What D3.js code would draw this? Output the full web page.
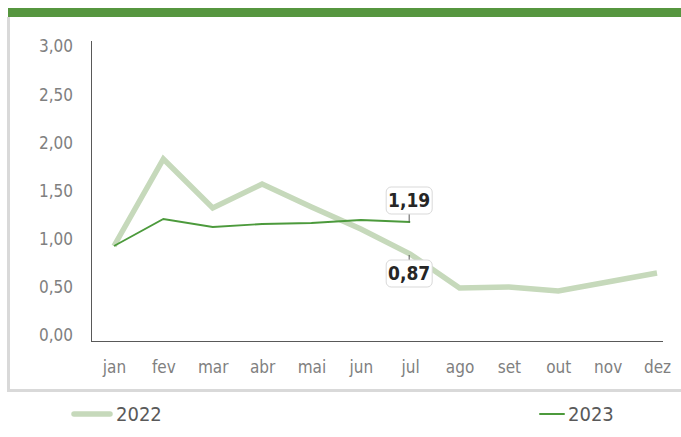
<!DOCTYPE html>
<html>
<head>
<meta charset="utf-8">
<script src="https://cdn.jsdelivr.net/npm/d3@7"></script>
<style>
  body { margin: 0; background: #fff; }
  svg text { font-family: "Liberation Sans Narrow", "DejaVu Sans Condensed", sans-serif; }
</style>
</head>
<body>
<svg id="chart"></svg>
<script>
var width = 681, height = 437;

var months = ["jan", "fev", "mar", "abr", "mai", "jun", "jul", "ago", "set", "out", "nov", "dez"];
var values2022 = [0.95, 1.82, 1.33, 1.57, 1.34, 1.12, 0.87, 0.53, 0.54, 0.50, 0.59, 0.68];
var values2023 = [0.95, 1.22, 1.14, 1.17, 1.18, 1.21, 1.19];
var yTicks = [0, 0.5, 1, 1.5, 2, 2.5, 3];

var fmt = function(v) { return d3.format(".2f")(v).replace(".", ","); };

var svg = d3.select("#chart")
    .attr("width", width)
    .attr("height", height);

// frame: green band on top, grey border left and bottom
svg.append("rect").attr("x", 8).attr("y", 8).attr("width", width - 8).attr("height", 9).attr("fill", "#56963f");
svg.append("rect").attr("x", 7).attr("y", 17).attr("width", 3).attr("height", 375).attr("fill", "#d9d9d9");
svg.append("rect").attr("x", 7).attr("y", 389).attr("width", width - 7).attr("height", 3).attr("fill", "#d9d9d9");

var x = d3.scalePoint().domain(months).range([114, 657]);
var y = d3.scaleLinear().domain([0, 3]).range([341, 41]);
// tick labels sit slightly inside the plot range in the original
var yLab = d3.scaleLinear().domain([0, 3]).range([335, 46]);

// axes lines
svg.append("line").attr("x1", 91.5).attr("x2", 91.5).attr("y1", y(3)).attr("y2", y(0))
    .attr("stroke", "#595959").attr("stroke-width", 1);
svg.append("line").attr("x1", 91).attr("x2", 663).attr("y1", y(0) + 0.5).attr("y2", y(0) + 0.5)
    .attr("stroke", "#595959").attr("stroke-width", 1);

var yAxis = svg.append("g")
    .attr("transform", "translate(73,0)")
    .call(d3.axisLeft(yLab).tickValues(yTicks).tickFormat(fmt).tickSize(0).tickPadding(0));
yAxis.select(".domain").remove();
yAxis.selectAll("text").attr("fill", "#808080").style("font-size", "17px").attr("dy", "0.35em");

var xAxis = svg.append("g")
    .attr("transform", "translate(0,367)")
    .call(d3.axisBottom(x).tickSize(0).tickPadding(0));
xAxis.select(".domain").remove();
xAxis.selectAll("text").attr("fill", "#808080").style("font-size", "17px").attr("dy", "0.35em");

var line = d3.line()
    .x(function(d, i) { return x(months[i]); })
    .y(function(d) { return y(d); });

svg.append("path")
    .datum(values2022)
    .attr("d", line)
    .attr("fill", "none")
    .attr("stroke", "#c6d9bb")
    .attr("stroke-width", 5.5)
    .attr("stroke-linejoin", "miter");

svg.append("path")
    .datum(values2023)
    .attr("d", line)
    .attr("fill", "none")
    .attr("stroke", "#4c9a3c")
    .attr("stroke-width", 1.8);

// data labels for the last 2023 point and matching 2022 point
function dataLabel(v, above) {
    var cx = x(months[6]) - 1, cy = y(v);
    var bw = 46, bh = 27;
    var by = above ? cy - 8 - bh : cy + 6;
    svg.append("line")
        .attr("x1", cx).attr("x2", cx)
        .attr("y1", above ? cy : cy + 1).attr("y2", above ? by + bh : by)
        .attr("stroke", "#595959").attr("stroke-width", 1);
    svg.append("rect")
        .attr("x", cx - bw / 2).attr("y", by).attr("width", bw).attr("height", bh)
        .attr("rx", 5).attr("fill", "#fff").attr("stroke", "#d9d9d9");
    svg.append("text")
        .attr("x", cx).attr("y", by + bh / 2).attr("dy", "0.36em")
        .attr("text-anchor", "middle")
        .attr("fill", "#262626").style("font-size", "19px").style("font-weight", "bold")
        .text(fmt(v));
}
dataLabel(values2023[6], true);
dataLabel(values2022[6], false);

// legend
var legend = [
    {name: "2022", color: "#c6d9bb", w: 5.5, x: 74},
    {name: "2023", color: "#4c9a3c", w: 2, x: 540}
];
var lg = svg.selectAll(".legend").data(legend).enter().append("g")
    .attr("transform", function(d) { return "translate(" + d.x + ",414)"; });
lg.append("line").attr("x1", 0).attr("x2", function(d) { return d.w > 3 ? 36 : 24; })
    .attr("y1", 0).attr("y2", 0)
    .attr("stroke", function(d) { return d.color; })
    .attr("stroke-width", function(d) { return d.w; })
    .attr("stroke-linecap", "round");
lg.append("text")
    .attr("x", function(d) { return d.w > 3 ? 42 : 28; })
    .attr("dy", "0.35em")
    .attr("fill", "#595959").style("font-size", "20px")
    .text(function(d) { return d.name; });
</script>
</body>
</html>
